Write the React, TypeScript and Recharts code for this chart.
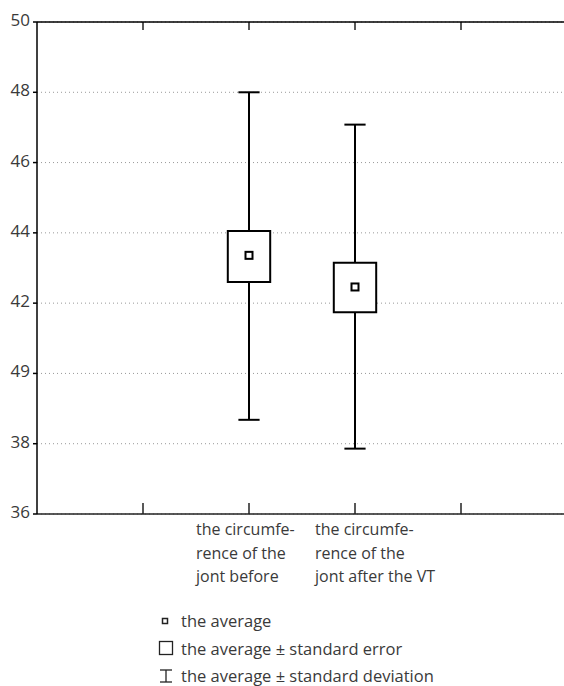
import React from 'react';
import {
  ComposedChart,
  XAxis,
  YAxis,
  CartesianGrid,
  Scatter,
  ReferenceArea,
  ReferenceLine,
} from 'recharts';

// categories (one array of lines each) and their position on the x axis
const CATEGORIES = [
  ['the circumfe-', 'rence of the', 'jont before'],
  ['the circumfe-', 'rence of the', 'jont after the VT'],
];
const X_POS = [2, 3];

// values
const MEAN = [43.36, 42.46];
const SE_LOW = [42.6, 41.74];
const SE_HIGH = [44.05, 43.15];
const SD_LOW = [38.68, 37.86];
const SD_HIGH = [48.0, 47.08];

// axis ticks (the source prints "49" where 40 should be)
const Y_TICKS = [36, 38, 40, 42, 44, 46, 48, 50];
const Y_TICK_LABELS = ['36', '38', '49', '42', '44', '46', '48', '50'];
const X_TICKS = [1, 2, 3, 4];

const FONT = '"Open Sans", "DejaVu Sans", sans-serif';
const TEXT_COLOR = '#3a3a3a';
const BOX_HALF = 0.2;
const CAP_HALF = 0.1;
const LABEL_SHIFT = [-53, -40];

const meanData = X_POS.map((x, i) => ({ x, y: MEAN[i] }));

const BottomTick = (props: any) => {
  const { x, y, payload } = props;
  const idx = X_POS.indexOf(payload.value);
  return (
    <g>
      <line x1={x} x2={x} y1={y} y2={y - 11} stroke="#222" strokeWidth={1.5} />
      {idx >= 0 && (
        <text x={x + LABEL_SHIFT[idx]} y={y} fill={TEXT_COLOR} fontSize={16} fontFamily={FONT}>
          {CATEGORIES[idx].map((line, j) => (
            <tspan key={j} x={x + LABEL_SHIFT[idx]} dy={j === 0 ? 21 : 23.5}>
              {line}
            </tspan>
          ))}
        </text>
      )}
    </g>
  );
};

const LeftTick = (props: any) => {
  const { x, y, payload } = props;
  const i = Y_TICKS.indexOf(payload.value);
  return (
    <g>
      <line x1={x + 3} x2={x + 7} y1={y} y2={y} stroke="#000" strokeWidth={1.5} />
      <text x={x} y={y} dy={4} textAnchor="end" fill={TEXT_COLOR} fontSize={17} fontFamily={FONT}>
        {Y_TICK_LABELS[i]}
      </text>
    </g>
  );
};

// short inward tick at the top frame edge
const TopTickMark = (props: any) => {
  const { x1, y1, y2 } = props;
  const top = Math.min(y1, y2);
  return <line x1={x1} x2={x1} y1={top} y2={top + 8} stroke="#222" strokeWidth={1.5} />;
};

const MeanSquare = (props: any) => {
  const { cx, cy } = props;
  return <rect x={cx - 3.5} y={cy - 3.5} width={7} height={7} fill="#fff" stroke="#000" strokeWidth={2} />;
};

export default function App() {
  return (
    <div style={{ position: 'absolute', left: 0, top: 0, width: 564, height: 686, overflow: 'hidden', background: '#fff' }}>
      <ComposedChart
        width={600}
        height={686}
        data={meanData}
        margin={{ top: 21, right: 33, left: 0, bottom: 112 }}
      >
        <CartesianGrid vertical={false} stroke="#999" strokeDasharray="1 3" />
        <XAxis
          type="number"
          dataKey="x"
          domain={[0, 5]}
          ticks={X_TICKS}
          axisLine={{ stroke: '#222', strokeWidth: 1.5 }}
          tickLine={false}
          tickSize={0}
          tickMargin={0}
          height={60}
          tick={<BottomTick />}
          interval={0}
        />
        <XAxis
          xAxisId="top"
          orientation="top"
          type="number"
          domain={[0, 5]}
          ticks={X_TICKS}
          axisLine={{ stroke: '#000', strokeWidth: 1.5 }}
          tickLine={false}
          height={1}
          tick={false}
        />
        <YAxis
          type="number"
          domain={[36, 50]}
          ticks={Y_TICKS}
          interval={0}
          width={37}
          axisLine={{ stroke: '#000', strokeWidth: 1.5 }}
          tickLine={false}
          tickSize={4}
          tickMargin={3}
          tick={<LeftTick />}
        />
        {X_TICKS.map((t) => (
          <ReferenceLine key={`top-${t}`} x={t} shape={<TopTickMark />} />
        ))}
        {X_POS.map((x, i) => (
          <ReferenceLine
            key={`sdh-${i}`}
            segment={[{ x, y: SE_HIGH[i] }, { x, y: SD_HIGH[i] }]}
            stroke="#000"
            strokeWidth={2}
          />
        ))}
        {X_POS.map((x, i) => (
          <ReferenceLine
            key={`sdl-${i}`}
            segment={[{ x, y: SD_LOW[i] }, { x, y: SE_LOW[i] }]}
            stroke="#000"
            strokeWidth={2}
          />
        ))}
        {X_POS.map((x, i) => (
          <ReferenceLine
            key={`cap-h-${i}`}
            segment={[{ x: x - CAP_HALF, y: SD_HIGH[i] }, { x: x + CAP_HALF, y: SD_HIGH[i] }]}
            stroke="#000"
            strokeWidth={2}
          />
        ))}
        {X_POS.map((x, i) => (
          <ReferenceLine
            key={`cap-l-${i}`}
            segment={[{ x: x - CAP_HALF, y: SD_LOW[i] }, { x: x + CAP_HALF, y: SD_LOW[i] }]}
            stroke="#000"
            strokeWidth={2}
          />
        ))}
        {X_POS.map((x, i) => (
          <ReferenceArea
            key={`box-${i}`}
            x1={x - BOX_HALF}
            x2={x + BOX_HALF}
            y1={SE_LOW[i]}
            y2={SE_HIGH[i]}
            fill="#fff"
            fillOpacity={1}
            stroke="#000"
            strokeWidth={2}
          />
        ))}
        <Scatter dataKey="y" isAnimationActive={false} shape={<MeanSquare />} />
      </ComposedChart>
      <div
        style={{
          position: 'absolute',
          left: 157,
          top: 607,
          fontFamily: FONT,
          fontSize: 16.5,
          color: TEXT_COLOR,
          lineHeight: '27.5px',
        }}
      >
        <div style={{ display: 'flex', alignItems: 'center' }}>
          <svg width={24} height={16}>
            <rect x={5.5} y={5.5} width={5} height={5} fill="#fff" stroke="#222" strokeWidth={1.5} />
          </svg>
          <span>the average</span>
        </div>
        <div style={{ display: 'flex', alignItems: 'center' }}>
          <svg width={24} height={16}>
            <rect x={2.5} y={1.5} width={13} height={13} fill="#fff" stroke="#222" strokeWidth={1.3} />
          </svg>
          <span>the average ± standard error</span>
        </div>
        <div style={{ display: 'flex', alignItems: 'center' }}>
          <svg width={24} height={16}>
            <line x1={9} x2={9} y1={2} y2={14} stroke="#222" strokeWidth={1.3} />
            <line x1={3} x2={15} y1={2} y2={2} stroke="#222" strokeWidth={1.3} />
            <line x1={3} x2={15} y1={14} y2={14} stroke="#222" strokeWidth={1.3} />
          </svg>
          <span>the average ± standard deviation</span>
        </div>
      </div>
    </div>
  );
}
